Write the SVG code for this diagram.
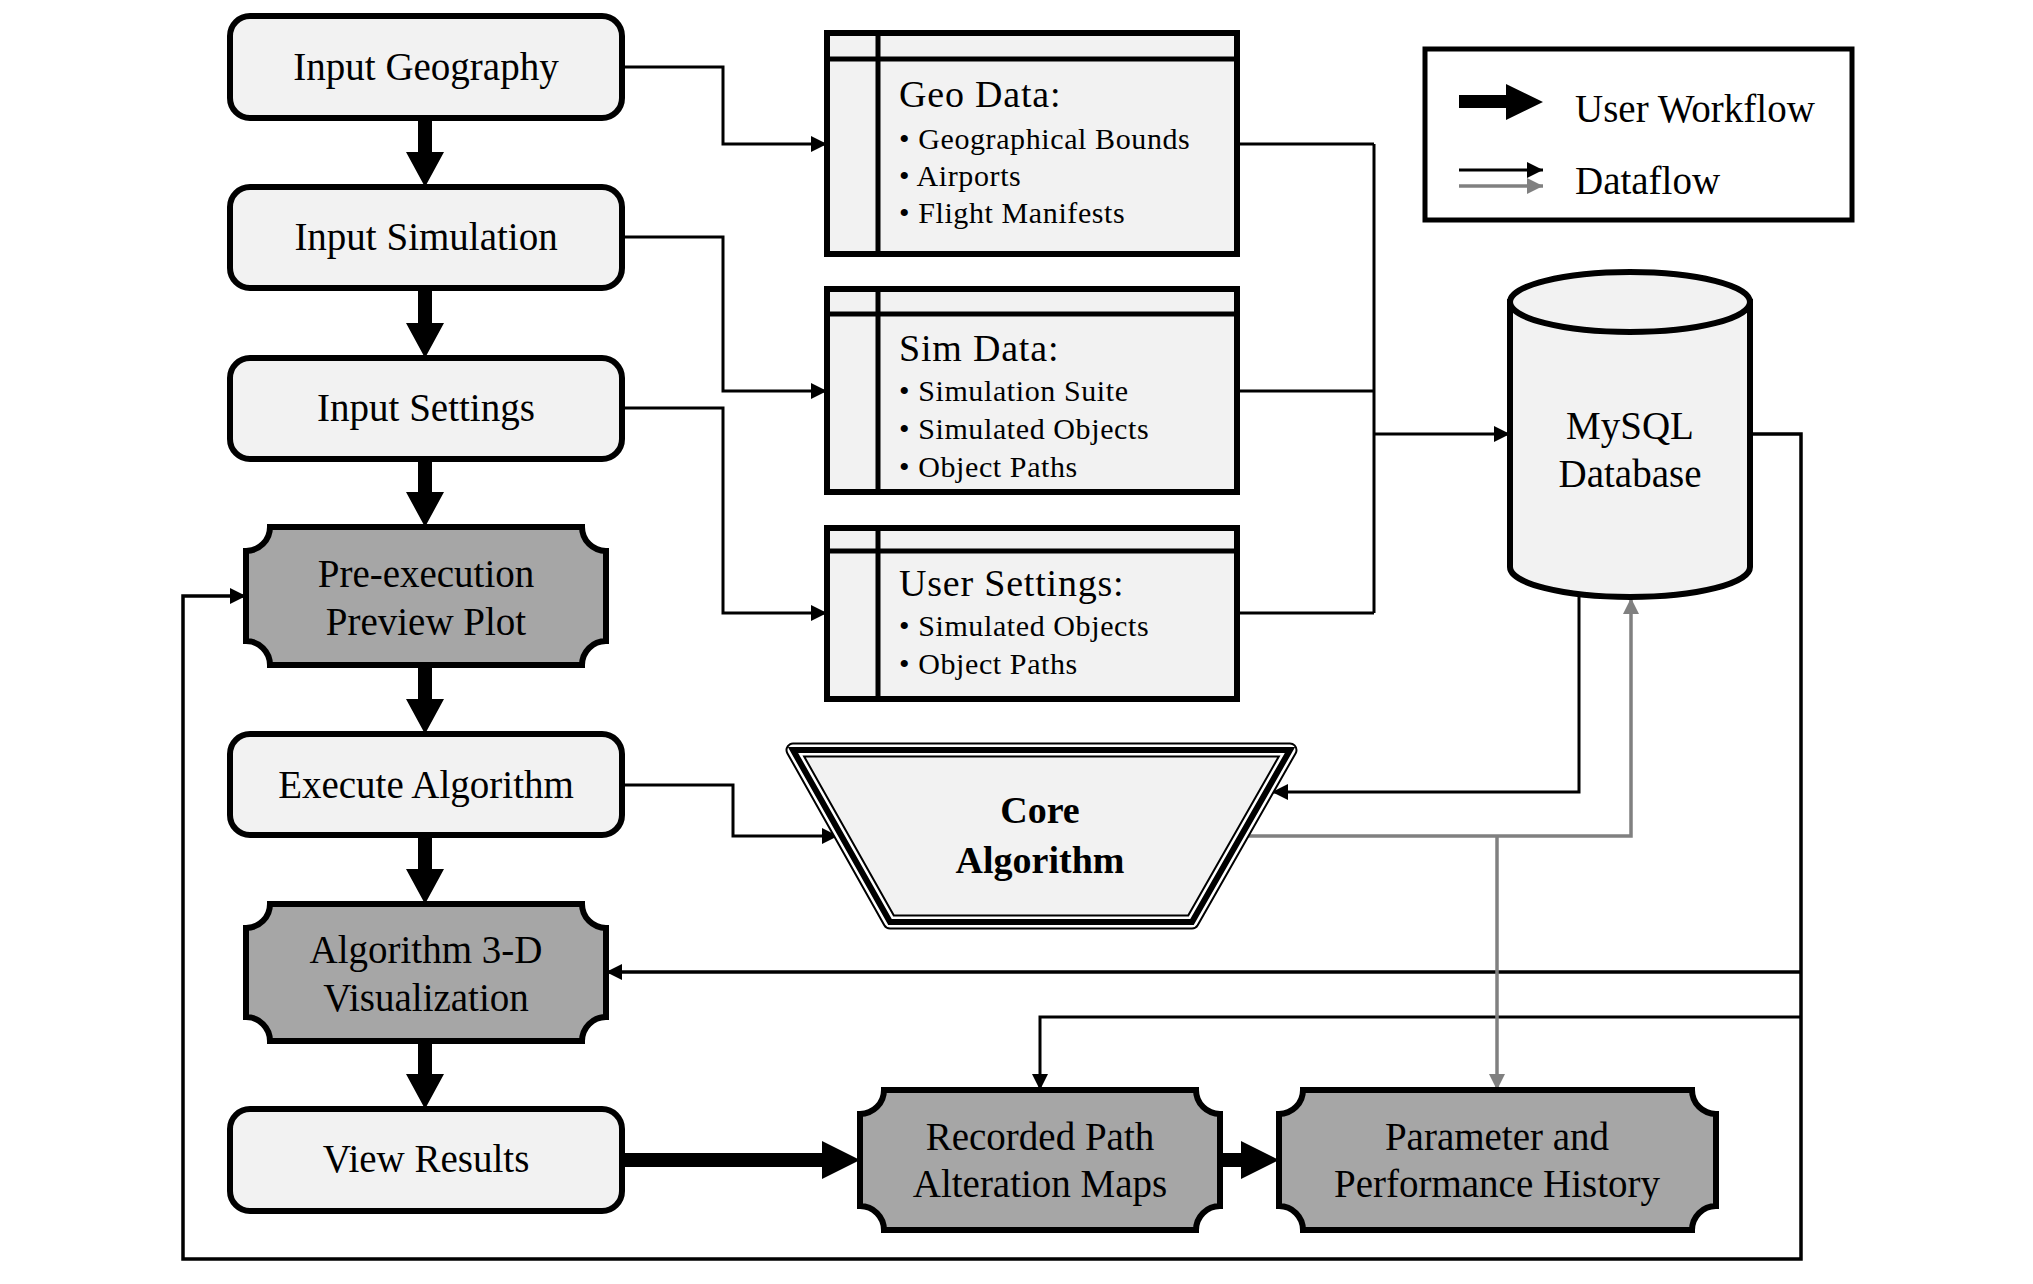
<svg xmlns="http://www.w3.org/2000/svg" width="2033" height="1284" viewBox="0 0 2033 1284">
<defs>
<style>
.box{fill:#f2f2f2;stroke:#000;stroke-width:6}
.plq{fill:#a6a6a6;stroke:#000;stroke-width:6;stroke-linejoin:miter}
.t{font-family:"Liberation Serif","Times New Roman",serif;font-size:39px;fill:#000;text-anchor:middle}
.h{font-family:"Liberation Serif","Times New Roman",serif;font-size:38px;fill:#000;letter-spacing:0.8px}
.b{font-family:"Liberation Serif","Times New Roman",serif;font-size:30px;fill:#000;letter-spacing:0.6px}
.lt{font-family:"Liberation Serif","Times New Roman",serif;font-size:39px;fill:#000}
.bold{font-family:"Liberation Serif","Times New Roman",serif;font-size:38px;font-weight:bold;fill:#000;text-anchor:middle}
.ln{fill:none;stroke:#000;stroke-width:3}
.lg{fill:none;stroke:#808080;stroke-width:3.5}
.thick{fill:#000;stroke:none}
</style>
<marker id="ab" markerUnits="userSpaceOnUse" markerWidth="16" markerHeight="16" refX="16" refY="8" orient="auto"><path d="M0,0 L16,8 L0,16 z" fill="#000"/></marker>
<marker id="ag" markerUnits="userSpaceOnUse" markerWidth="16" markerHeight="16" refX="16" refY="8" orient="auto"><path d="M0,0 L16,8 L0,16 z" fill="#808080"/></marker>
</defs>
<rect width="2033" height="1284" fill="#fff"/>

<g id="connectors">
<path class="ln" d="M622,67 H723 V144 H827" marker-end="url(#ab)"/>
<path class="ln" d="M622,237 H723 V391 H827" marker-end="url(#ab)"/>
<path class="ln" d="M622,408 H723 V613 H827" marker-end="url(#ab)"/>
<path class="ln" d="M1237,144 H1374 M1237,391 H1374 M1237,613 H1374 M1374,144 V613"/>
<path class="ln" d="M1374,434 H1510" marker-end="url(#ab)"/>
<path class="ln" style="stroke-width:3.5" d="M1750,434 H1801 V1259 H183 V596 H246" marker-end="url(#ab)"/>
<path class="ln" style="stroke-width:3.5" d="M1801,972 H606" marker-end="url(#ab)"/>
<path class="ln" d="M1801,1017 H1040 V1090" marker-end="url(#ab)"/>
<path class="ln" d="M1579,594 V792 H1272" marker-end="url(#ab)"/>
<path class="lg" d="M1245,836 H1631 V598" marker-end="url(#ag)"/>
<path class="lg" d="M1497,836 V1090" marker-end="url(#ag)"/>
<path class="ln" d="M622,785 H733 V836 H838" marker-end="url(#ab)"/>
<polygon class="thick" points="418,118 432,118 432,152 444,152 425,187 406,152 418,152"/>
<polygon class="thick" points="418,288 432,288 432,323 444,323 425,358 406,323 418,323"/>
<polygon class="thick" points="418,459 432,459 432,492 444,492 425,527 406,492 418,492"/>
<polygon class="thick" points="418,665 432,665 432,699 444,699 425,734 406,699 418,699"/>
<polygon class="thick" points="418,835 432,835 432,869 444,869 425,904 406,869 418,869"/>
<polygon class="thick" points="418,1041 432,1041 432,1074 444,1074 425,1109 406,1074 418,1074"/>
<polygon class="thick" points="622,1153 822,1153 822,1141 860,1160 822,1179 822,1167 622,1167"/>
<polygon class="thick" points="1220,1153 1241,1153 1241,1141 1279,1160 1241,1179 1241,1167 1220,1167"/>
</g>

<g id="input-geography"><rect class="box" x="230" y="16" width="392" height="102" rx="20"/><text class="t" x="426" y="80">Input Geography</text></g>
<g id="input-simulation"><rect class="box" x="230" y="187" width="392" height="101" rx="20"/><text class="t" x="426" y="250">Input Simulation</text></g>
<g id="input-settings"><rect class="box" x="230" y="358" width="392" height="101" rx="20"/><text class="t" x="426" y="421">Input Settings</text></g>
<g id="pre-execution"><path class="plq" d="M270,527 H582 A24,24 0 0 0 606,551 V641 A24,24 0 0 0 582,665 H270 A24,24 0 0 0 246,641 V551 A24,24 0 0 0 270,527 Z"/><text class="t" x="426" y="587">Pre-execution</text><text class="t" x="426" y="635">Preview Plot</text></g>
<g id="execute-algorithm"><rect class="box" x="230" y="734" width="392" height="101" rx="20"/><text class="t" x="426" y="798">Execute Algorithm</text></g>
<g id="algorithm-3d"><path class="plq" d="M270,904 H582 A24,24 0 0 0 606,928 V1017 A24,24 0 0 0 582,1041 H270 A24,24 0 0 0 246,1017 V928 A24,24 0 0 0 270,904 Z"/><text class="t" x="426" y="963">Algorithm 3-D</text><text class="t" x="426" y="1011">Visualization</text></g>
<g id="view-results"><rect class="box" x="230" y="1109" width="392" height="102" rx="20"/><text class="t" x="426" y="1172">View Results</text></g>

<g id="geo-data"><rect class="box" x="827" y="33" width="410" height="221"/><path class="ln" style="stroke-width:5" d="M827,59 H1237 M878,33 V254"/>
<text class="h" x="899" y="107">Geo Data:</text>
<text class="b" x="899" y="149">• Geographical Bounds</text><text class="b" x="899" y="186">• Airports</text><text class="b" x="899" y="223">• Flight Manifests</text></g>
<g id="sim-data"><rect class="box" x="827" y="289" width="410" height="203"/><path class="ln" style="stroke-width:5" d="M827,314 H1237 M878,289 V492"/>
<text class="h" x="899" y="361">Sim Data:</text>
<text class="b" x="899" y="401">• Simulation Suite</text><text class="b" x="899" y="439">• Simulated Objects</text><text class="b" x="899" y="477">• Object Paths</text></g>
<g id="user-settings"><rect class="box" x="827" y="528" width="410" height="171"/><path class="ln" style="stroke-width:5" d="M827,551 H1237 M878,528 V699"/>
<text class="h" x="899" y="596">User Settings:</text>
<text class="b" x="899" y="636">• Simulated Objects</text><text class="b" x="899" y="674">• Object Paths</text></g>

<g id="mysql"><path class="box" d="M1510,302 V567 A120,30 0 0 0 1750,567 V302 Z"/><ellipse class="box" cx="1630" cy="302" rx="120" ry="30"/>
<text class="t" x="1630" y="439">MySQL</text><text class="t" x="1630" y="487">Database</text></g>

<g id="core-algorithm">
<path d="M793,750 H1290 L1192,922 H890 Z" fill="#f2f2f2" stroke="#000" stroke-width="15" stroke-linejoin="round"/>
<path d="M793,750 H1290 L1192,922 H890 Z" fill="none" stroke="#fff" stroke-width="11" stroke-linejoin="round"/>
<path d="M793,750 H1290 L1192,922 H890 Z" fill="none" stroke="#000" stroke-width="6" stroke-linejoin="miter"/>
<text class="bold" x="1040" y="823">Core</text><text class="bold" x="1040" y="873">Algorithm</text></g>

<g id="recorded-path"><path class="plq" d="M884,1090 H1196 A24,24 0 0 0 1220,1114 V1206 A24,24 0 0 0 1196,1230 H884 A24,24 0 0 0 860,1206 V1114 A24,24 0 0 0 884,1090 Z"/><text class="t" x="1040" y="1150">Recorded Path</text><text class="t" x="1040" y="1197">Alteration Maps</text></g>
<g id="parameter-history"><path class="plq" d="M1303,1090 H1692 A24,24 0 0 0 1716,1114 V1206 A24,24 0 0 0 1692,1230 H1303 A24,24 0 0 0 1279,1206 V1114 A24,24 0 0 0 1303,1090 Z"/><text class="t" x="1497" y="1150">Parameter and</text><text class="t" x="1497" y="1197">Performance History</text></g>

<g id="legend"><rect x="1425" y="49" width="427" height="171" fill="#fff" stroke="#000" stroke-width="5"/>
<polygon class="thick" points="1459,95 1506,95 1506,84 1543,102 1506,120 1506,108 1459,108"/>
<text class="lt" x="1575" y="122">User Workflow</text>
<path class="ln" d="M1459,170 H1543" marker-end="url(#ab)"/>
<path class="lg" d="M1459,186 H1543" marker-end="url(#ag)"/>
<text class="lt" x="1575" y="194">Dataflow</text></g>
</svg>
